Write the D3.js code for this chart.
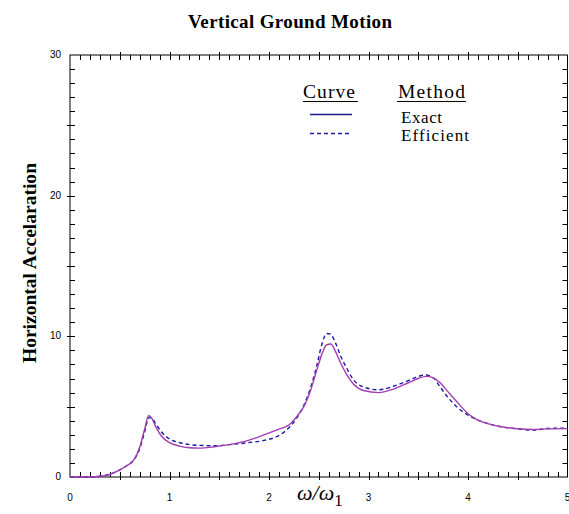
<!DOCTYPE html>
<html><head><meta charset="utf-8">
<script src="https://cdn.jsdelivr.net/npm/d3@7"></script>
<style>body{margin:0;background:#fff}svg{display:block}</style>
</head><body>
<script>
const xValues = [0,0.2,0.3,0.4,0.5,0.57,0.64,0.7,0.75,0.79,0.82,0.86,0.92,1.0,1.1,1.2,1.3,1.45,1.6,1.8,1.95,2.1,2.2,2.28,2.35,2.42,2.48,2.53,2.58,2.62,2.67,2.72,2.78,2.85,2.95,3.1,3.25,3.4,3.5,3.58,3.65,3.72,3.8,3.9,4.0,4.1,4.2,4.35,4.5,4.65,4.8,5.0];
const exactValues = [0,0,0.05,0.18,0.5,0.8,1.2,2.1,3.4,4.35,4.2,3.6,2.9,2.45,2.2,2.08,2.05,2.15,2.3,2.62,3.0,3.4,3.7,4.3,5.0,6.2,7.6,8.7,9.4,9.45,8.9,8.1,7.3,6.6,6.15,6.0,6.25,6.7,7.0,7.15,7.05,6.7,6.05,5.25,4.5,4.05,3.8,3.55,3.43,3.38,3.42,3.44];
const efficientValues = [0,0,0.05,0.2,0.5,0.8,1.2,2.0,3.2,4.2,4.2,3.8,3.2,2.7,2.45,2.3,2.25,2.22,2.3,2.45,2.6,2.95,3.5,4.2,5.1,6.4,7.9,9.4,10.2,10.15,9.5,8.6,7.75,6.9,6.4,6.2,6.45,6.85,7.15,7.25,7.05,6.4,5.65,4.9,4.4,4.05,3.8,3.55,3.42,3.33,3.45,3.48];
const xTickLabels = [0,1,2,3,4,5];
const yTickLabels = [0,10,20,30];
const legendCurves = ["Exact","Efficient"];

const W=569,H=514;
const svg=d3.select("body").append("svg").attr("width",W).attr("height",H);
const L=70,R=567.5,T=55,B=477;
const x=d3.scaleLinear().domain([0,5]).range([L,R]);
const y=d3.scaleLinear().domain([0,30]).range([B,T]);
const serif="'Liberation Serif','Times New Roman',serif";
const sans="'Liberation Sans',Arial,sans-serif";

svg.append("text").attr("x",188).attr("y",28)
  .attr("font-family",serif).attr("font-weight","bold").attr("font-size",19)
  .attr("textLength",204).attr("lengthAdjust","spacing").text("Vertical Ground Motion");

// frame
svg.append("rect").attr("x",L).attr("y",T).attr("width",R-L).attr("height",B-T)
  .attr("fill","none").attr("stroke","#000").attr("stroke-width",1);

// ticks
const g=svg.append("g").attr("stroke","#000").attr("stroke-width",1);
const xt=d3.range(0,51).map(i=>i/10);
xt.forEach((v,i)=>{
  if(i===0||i===50) return;
  const major=i%5===0;
  const px=Math.round(x(v))+0.5;
  g.append("line").attr("x1",px).attr("x2",px).attr("y1",B-5).attr("y2",major?B+3:B);
  g.append("line").attr("x1",px).attr("x2",px).attr("y1",T+5).attr("y2",major?T-3:T);
});
d3.range(1,30).forEach(v=>{
  const major=v%5===0;
  const py=Math.round(y(v))+0.5;
  g.append("line").attr("x1",L).attr("x2",L+5).attr("y1",py).attr("y2",py);
  if(major) g.append("line").attr("x1",L-3).attr("x2",L).attr("y1",py).attr("y2",py);
  g.append("line").attr("x1",R-5).attr("x2",R).attr("y1",py).attr("y2",py);
});

// tick labels
svg.selectAll(".xl").data(xTickLabels).enter().append("text")
  .attr("x",d=>x(d)).attr("y",501).attr("text-anchor","middle")
  .attr("font-family",sans).attr("font-size",10).text(d=>d);
svg.selectAll(".yl").data(yTickLabels).enter().append("text")
  .attr("x",61).attr("y",d=>y(d)+3).attr("text-anchor","end")
  .attr("font-family",sans).attr("font-size",10).text(d=>d);

// axis titles
svg.append("text").attr("transform","translate(36,363) rotate(-90)")
  .attr("font-family",serif).attr("font-weight","bold").attr("font-size",19.5)
  .attr("textLength",200).attr("lengthAdjust","spacing").text("Horizontal  Accelaration");
const xl=svg.append("text").attr("x",297).attr("y",500).attr("font-family",serif).attr("font-style","italic").attr("font-size",22);
xl.append("tspan").text("ω/ω");
xl.append("tspan").attr("font-style","normal").attr("font-size",17).attr("dy",6).text("1");

// curves
const line=(vals)=>d3.line().x((d,i)=>x(xValues[i])).y(d=>y(d)).curve(d3.curveMonotoneX)(vals);
svg.append("path").attr("d",line(efficientValues)).attr("fill","none").attr("stroke","#1a1aa6")
  .attr("stroke-width",1.4).attr("stroke-dasharray","4,3");
svg.append("path").attr("d",line(exactValues)).attr("fill","none").attr("stroke","#a23cb0")
  .attr("stroke-width",1.4);

// legend
const lg=svg.append("g");
lg.append("text").attr("x",303).attr("y",97.5).attr("font-family",serif).attr("font-size",19.5)
  .attr("textLength",52).attr("lengthAdjust","spacing").text("Curve");
lg.append("line").attr("x1",303).attr("x2",358).attr("y1",101.5).attr("y2",101.5).attr("stroke","#000");
lg.append("text").attr("x",398).attr("y",97.5).attr("font-family",serif).attr("font-size",19.5)
  .attr("textLength",67).attr("lengthAdjust","spacing").text("Method");
lg.append("line").attr("x1",397).attr("x2",466).attr("y1",101.5).attr("y2",101.5).attr("stroke","#000");
lg.append("line").attr("x1",310).attr("x2",352).attr("y1",114.5).attr("y2",114.5).attr("stroke","#1a1a8c").attr("stroke-width",1.3);
lg.append("line").attr("x1",310).attr("x2",352).attr("y1",133.5).attr("y2",133.5).attr("stroke","#1a1aa6").attr("stroke-width",1.3).attr("stroke-dasharray","4,3");
const legendLens=[41,68];
lg.selectAll(".lt").data(legendCurves).enter().append("text")
  .attr("x",401).attr("y",(d,i)=>123+i*18).attr("font-family",serif).attr("font-size",17)
  .attr("textLength",(d,i)=>legendLens[i]).attr("lengthAdjust","spacing").text(d=>d);
</script>
</body></html>
